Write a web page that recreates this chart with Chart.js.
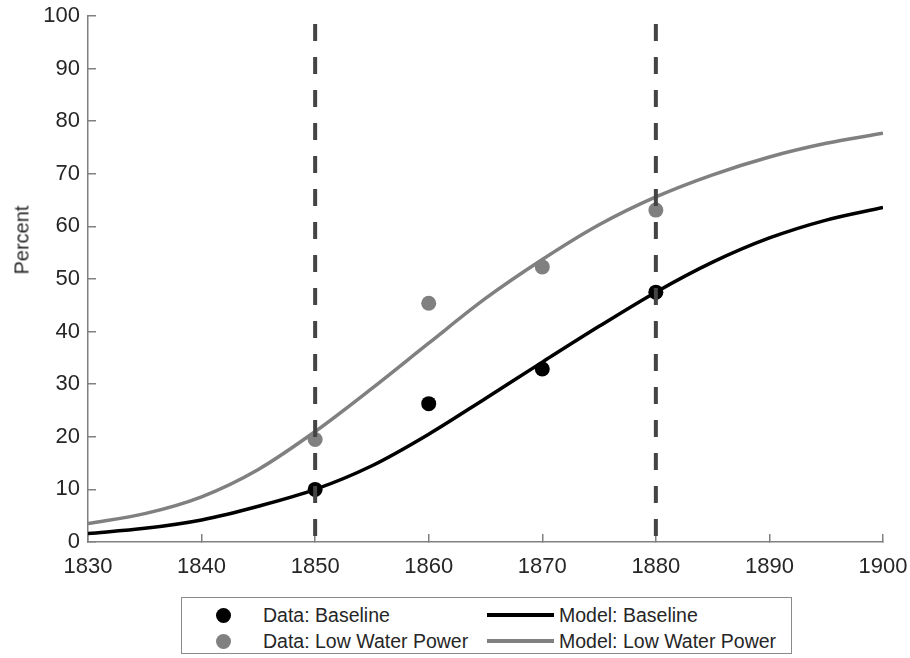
<!DOCTYPE html>
<html>
<head>
<meta charset="utf-8">
<script src="https://cdn.jsdelivr.net/npm/chart.js@4.4.1/dist/chart.umd.min.js"></script>
<style>
html,body{margin:0;padding:0;background:#fff;}
#wrap{position:relative;width:910px;height:658px;overflow:hidden;}
#c{position:absolute;left:0;top:0;}
#ylabel{position:absolute;left:22px;top:240px;transform:translate(-50%,-50%) rotate(-90deg);font:20px "Liberation Sans",Arial,sans-serif;color:#262626;white-space:nowrap;}
#legend{position:absolute;left:181px;top:597px;width:611px;height:57px;border:1px solid #8a8a8a;box-sizing:border-box;font:19.5px "Liberation Sans",Arial,sans-serif;color:#262626;background:#fff;}
.item{position:absolute;display:flex;align-items:center;white-space:nowrap;height:24px;}
.dot{width:15px;height:15px;border-radius:50%;margin-right:32px;margin-left:-7px;}
.line{width:67px;height:4px;margin-right:5px;}
</style>
</head>
<body>
<div id="wrap">
<canvas id="c" width="910" height="658"></canvas>
<div id="ylabel">Percent</div>
<div id="legend"></div>
</div>
<script>
// ---- data ----
const modelYears = [1830, 1835, 1840, 1845, 1850, 1855, 1860, 1865, 1870, 1875, 1880, 1885, 1890, 1895, 1900];
const baselineModel = [1.6, 2.6, 4.2, 6.8, 10.0, 14.5, 20.5, 27.3, 34.2, 41.0, 47.5, 53.2, 57.8, 61.2, 63.6];
const lowWaterModel = [3.5, 5.4, 8.6, 13.8, 21.0, 29.2, 37.8, 46.3, 53.7, 60.3, 65.6, 69.8, 73.2, 75.8, 77.7];
const dataYears = [1850, 1860, 1870, 1880];
const baselineData = [10.0, 26.3, 32.9, 47.5];
const lowWaterData = [19.5, 45.4, 52.3, 63.1];
const markerYears = [1850, 1880];
const xTicks = [1830, 1840, 1850, 1860, 1870, 1880, 1890, 1900];
const yTicks = [0, 10, 20, 30, 40, 50, 60, 70, 80, 90, 100];
const seriesLabels = ['Data: Baseline', 'Data: Low Water Power', 'Model: Baseline', 'Model: Low Water Power'];
const yTitle = 'Percent';

const BLACK = '#000000', GRAY = '#808080', DASH = '#444444', AXIS = '#808080', TXT = '#262626';
const FONT = '"Liberation Sans", Arial, sans-serif';

const pts = (xs, ys) => xs.map((x, i) => ({x: x, y: ys[i]}));
const noPad = s => { s.paddingTop = 0; s.paddingBottom = 0; s.paddingLeft = 0; s.paddingRight = 0; };

const datasets = [];
markerYears.forEach(yr => {
  datasets.push({
    label: 'marker ' + yr,
    data: [{x: yr, y: 100}, {x: yr, y: 0}],
    showLine: true, pointRadius: 0, borderColor: DASH, borderWidth: 4,
    borderDash: [17, 16], borderDashOffset: 25, tension: 0, order: 0
  });
});
datasets.push({label: seriesLabels[0], data: pts(dataYears, baselineData), showLine: false,
  pointRadius: 7.5, pointBackgroundColor: BLACK, pointBorderWidth: 0, order: 1});
datasets.push({label: seriesLabels[1], data: pts(dataYears, lowWaterData), showLine: false,
  pointRadius: 7.5, pointBackgroundColor: GRAY, pointBorderWidth: 0, order: 1});
datasets.push({label: seriesLabels[2], data: pts(modelYears, baselineModel), showLine: true,
  pointRadius: 0, borderColor: BLACK, borderWidth: 3.5, cubicInterpolationMode: 'monotone', order: 2});
datasets.push({label: seriesLabels[3], data: pts(modelYears, lowWaterModel), showLine: true,
  pointRadius: 0, borderColor: GRAY, borderWidth: 3.5, cubicInterpolationMode: 'monotone', order: 2});

new Chart(document.getElementById('c'), {
  type: 'scatter',
  data: {datasets: datasets},
  options: {
    responsive: false, animation: false, devicePixelRatio: 1,
    layout: {padding: {left: 0, top: 16, right: 27, bottom: 76}},
    plugins: {legend: {display: false}, tooltip: {enabled: false}},
    scales: {
      x: {
        type: 'linear', position: 'bottom', min: 1830, max: 1900,
        afterBuildTicks: s => { s.ticks = xTicks.map(v => ({value: v})); },
        afterFit: s => { s.height = 40; noPad(s); },
        ticks: {font: {family: FONT, size: 22}, color: TXT, padding: 20, maxRotation: 0,
          callback: v => String(v)},
        grid: {display: true, drawOnChartArea: false, drawTicks: true, tickLength: -8, color: AXIS, lineWidth: 1.5},
        border: {display: true, color: AXIS, width: 1.5}
      },
      y: {
        type: 'linear', position: 'left', min: 0, max: 100,
        afterBuildTicks: s => { s.ticks = yTicks.map(v => ({value: v})); },
        afterFit: s => { s.width = 88; noPad(s); },
        ticks: {font: {family: FONT, size: 22}, color: TXT, padding: 16, callback: v => String(v)},
        grid: {display: true, drawOnChartArea: false, drawTicks: true, tickLength: -8, color: AXIS, lineWidth: 1.5},
        border: {display: true, color: AXIS, width: 1.5}
      }
    }
  }
});

document.getElementById('ylabel').textContent = yTitle;

// HTML legend built from the dataset labels/colours
const leg = document.getElementById('legend');
const legendItems = [
  {text: seriesLabels[0], kind: 'dot', color: BLACK, left: 41, top: 5},
  {text: seriesLabels[2], kind: 'line', color: BLACK, left: 305, top: 5},
  {text: seriesLabels[1], kind: 'dot', color: GRAY, left: 41, top: 31},
  {text: seriesLabels[3], kind: 'line', color: GRAY, left: 305, top: 31}
];
legendItems.forEach(it => {
  const d = document.createElement('div');
  d.className = 'item';
  d.style.left = it.left + 'px';
  d.style.top = it.top + 'px';
  const m = document.createElement('span');
  m.className = it.kind;
  m.style.background = it.color;
  const t = document.createElement('span');
  t.textContent = it.text;
  d.appendChild(m); d.appendChild(t);
  leg.appendChild(d);
});
</script>
</body>
</html>
